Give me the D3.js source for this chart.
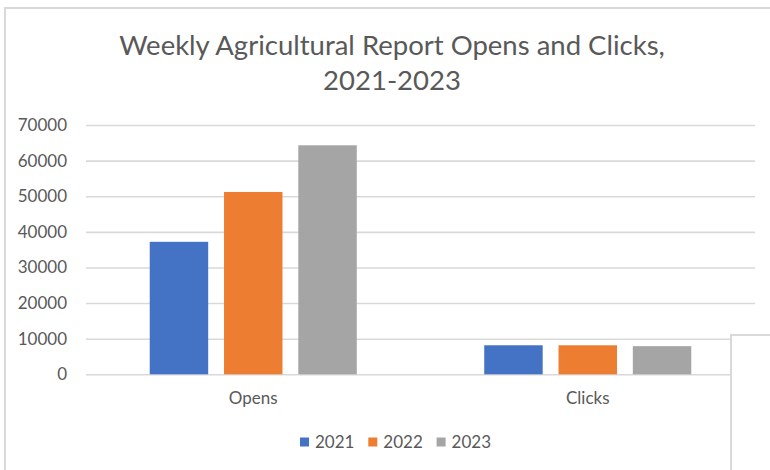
<!DOCTYPE html>
<html>
<head>
<meta charset="utf-8">
<script src="https://cdn.jsdelivr.net/npm/d3@7"></script>
<style>
  html, body { margin: 0; padding: 0; background: #fff; }
  svg { display: block; }
  text { font-family: Lato, "Open Sans", sans-serif; fill: #595959; }
</style>
</head>
<body>
<script>
const categories = ["Opens", "Clicks"];
const seriesNames = ["2021", "2022", "2023"];
const values2021 = [37200, 8150];
const values2022 = [51200, 8150];
const values2023 = [64300, 7900];
const yTicks = [0, 10000, 20000, 30000, 40000, 50000, 60000, 70000];
const titleLines = ["Weekly Agricultural Report Opens and Clicks,", "2021-2023"];
const colors = ["#4472C4", "#ED7D31", "#A5A5A5"];

const seriesValues = [values2021, values2022, values2023];
const W = 770, H = 470;
const svg = d3.select("body").append("svg").attr("width", W).attr("height", H);

// chart frame
svg.append("line").attr("x1", 4).attr("x2", W).attr("y1", 8).attr("y2", 8)
  .attr("stroke", "#d9d9d9").attr("stroke-width", 2);
svg.append("line").attr("x1", 5).attr("x2", 5).attr("y1", 7).attr("y2", H)
  .attr("stroke", "#d9d9d9").attr("stroke-width", 2);

const plotLeft = 86, plotRight = 755, plotTop = 125, plotBottom = 374.3;

const x0 = d3.scaleBand().domain(categories).range([plotLeft, plotRight])
  .paddingInner(0.381).paddingOuter(0.1905);
const x1 = d3.scaleBand().domain(seriesNames).range([0, x0.bandwidth()])
  .paddingInner(0.213).paddingOuter(0);
const y = d3.scaleLinear().domain([0, 70000]).range([plotBottom, plotTop]);

// gridlines
const grid = svg.append("g").attr("transform", `translate(${plotLeft},0)`)
  .call(d3.axisLeft(y).tickValues(yTicks).tickSize(-(plotRight - plotLeft)).tickFormat(""));
grid.select(".domain").remove();
grid.selectAll("line").attr("stroke", "#d9d9d9").attr("stroke-width", 1.6);

// y labels
const yAxis = svg.append("g").attr("transform", `translate(${plotLeft},0)`)
  .call(d3.axisLeft(y).tickValues(yTicks).tickSize(0).tickPadding(19).tickFormat(d3.format("d")));
yAxis.select(".domain").remove();
yAxis.selectAll("text").style("font-size", "17px").attr("fill", "#595959")
  .style("font-family", "Lato, sans-serif");

// bars
const groups = svg.append("g").selectAll("g").data(categories).join("g")
  .attr("transform", d => `translate(${x0(d)},0)`);
groups.selectAll("rect")
  .data((c, ci) => seriesNames.map((s, si) => ({ s, si, v: seriesValues[si][ci] })))
  .join("rect")
  .attr("x", d => x1(d.s))
  .attr("width", x1.bandwidth())
  .attr("y", d => y(d.v))
  .attr("height", d => y(0) - y(d.v))
  .attr("fill", d => colors[d.si]);

// category labels
const xAxis = svg.append("g").attr("transform", `translate(0,${plotBottom})`)
  .call(d3.axisBottom(x0).tickSize(0).tickPadding(18));
xAxis.select(".domain").remove();
xAxis.selectAll("text").style("font-size", "17px").attr("fill", "#595959")
  .style("font-family", "Lato, sans-serif");

// title
svg.append("g").selectAll("text").data(titleLines).join("text")
  .attr("x", 392).attr("y", (d, i) => 55 + i * 35)
  .attr("text-anchor", "middle")
  .style("font-size", "27.5px")
  .text(d => d);

// legend
const legend = svg.append("g").selectAll("g").data(seriesNames).join("g")
  .attr("transform", (d, i) => `translate(${300 + i * 68.3},437.5)`);
legend.append("rect").attr("width", 9).attr("height", 9).attr("fill", (d, i) => colors[i]);
legend.append("text").attr("x", 15).attr("y", 10.5).style("font-size", "17px").text(d => d);

// overlapping box at bottom right
svg.append("rect").attr("x", 731).attr("y", 335).attr("width", 50).attr("height", 150)
  .attr("fill", "#fff").attr("stroke", "#d9d9d9").attr("stroke-width", 2);
</script>
</body>
</html>
